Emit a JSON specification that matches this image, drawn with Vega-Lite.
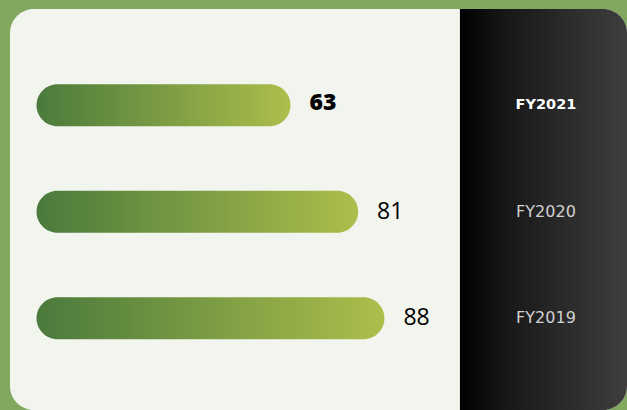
{
  "$schema": "https://vega.github.io/schema/vega-lite/v6.json",
  "width": 617,
  "height": 401,
  "padding": {"left": 10, "top": 9, "right": 0, "bottom": 0},
  "autosize": {"type": "none"},
  "background": "#82a860",
  "config": {
    "view": {"fill": "#f2f5ee", "stroke": null, "cornerRadius": 24}
  },
  "data": {
    "values": [
      {"year": "FY2021", "value": 63},
      {"year": "FY2020", "value": 81},
      {"year": "FY2019", "value": 88}
    ]
  },
  "encoding": {
    "y": {
      "field": "year",
      "type": "nominal",
      "sort": ["FY2021", "FY2020", "FY2019"],
      "axis": null,
      "scale": {"range": [43.05, 362.55], "paddingInner": 0.6056, "paddingOuter": 0.3028}
    }
  },
  "layer": [
    {
      "data": {"values": [{"panel": "labels"}]},
      "mark": {
        "type": "rect",
        "cornerRadiusTopRight": 24,
        "cornerRadiusBottomRight": 24,
        "fill": {
          "gradient": "linear", "x1": 0, "x2": 1, "y1": 0, "y2": 0,
          "stops": [
            {"offset": 0, "color": "#000000"},
            {"offset": 0.25, "color": "#161616"},
            {"offset": 1, "color": "#3e3e3e"}
          ]
        }
      },
      "encoding": {
        "y": {"value": 0},
        "y2": {"value": "height"},
        "x": {"datum": 108.1, "type": "quantitative", "scale": {"domain": [0, 100], "range": [43.8, 419.5]}, "axis": null},
        "x2": {"value": "width"}
      }
    },
    {
      "mark": {
        "type": "bar",
        "cornerRadius": 21,
        "fill": {
          "gradient": "linear", "x1": 0, "x2": 1, "y1": 0, "y2": 0,
          "stops": [
            {"offset": 0, "color": "#4a7a3c"},
            {"offset": 1, "color": "#adbe4b"}
          ]
        }
      },
      "encoding": {
        "x": {"field": "value", "type": "quantitative"},
        "x2": {"datum": -4.6}
      }
    },
    {
      "transform": [{"filter": "datum.year !== 'FY2021'"}],
      "mark": {"type": "text", "align": "left", "baseline": "middle", "dx": 19, "font": "Open Sans", "fontSize": 23, "color": "#000000"},
      "encoding": {
        "x": {"field": "value", "type": "quantitative"},
        "text": {"field": "value", "type": "quantitative"}
      }
    },
    {
      "transform": [{"filter": "datum.year === 'FY2021'"}],
      "mark": {"type": "text", "align": "left", "baseline": "middle", "dx": 19, "dy": -2, "font": "Open Sans", "fontSize": 23, "fontWeight": 800, "color": "#000000"},
      "encoding": {
        "x": {"field": "value", "type": "quantitative"},
        "text": {"field": "value", "type": "quantitative"}
      }
    },
    {
      "transform": [{"filter": "datum.year !== 'FY2021'"}],
      "mark": {"type": "text", "align": "center", "baseline": "middle", "font": "DejaVu Sans", "fontSize": 16, "color": "#d2d2d2"},
      "encoding": {
        "x": {"datum": 131},
        "text": {"field": "year", "type": "nominal"}
      }
    },
    {
      "transform": [{"filter": "datum.year === 'FY2021'"}],
      "mark": {"type": "text", "align": "center", "baseline": "middle", "font": "DejaVu Sans", "fontSize": 14.5, "fontWeight": "bold", "color": "#ffffff"},
      "encoding": {
        "x": {"datum": 131},
        "text": {"field": "year", "type": "nominal"}
      }
    }
  ]
}
